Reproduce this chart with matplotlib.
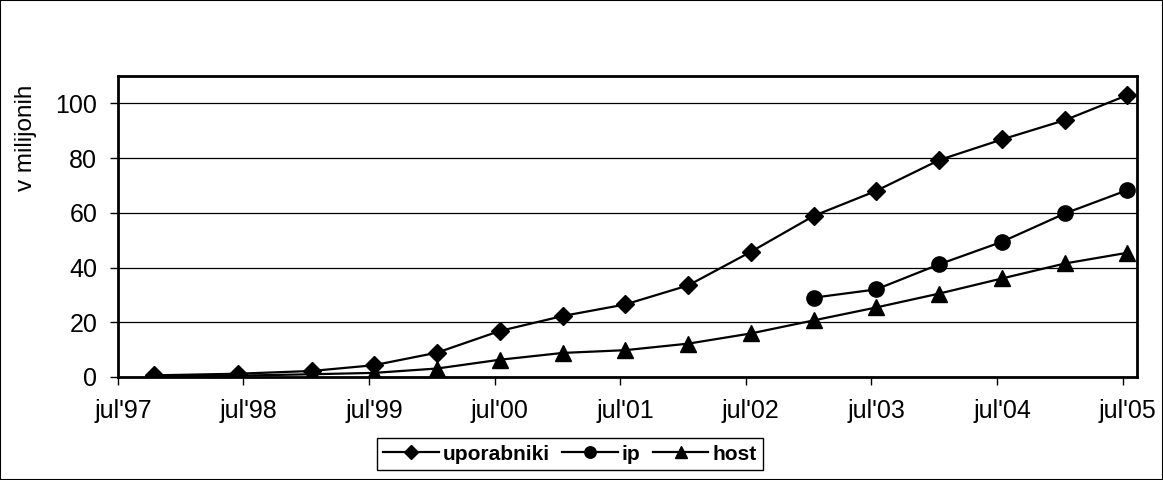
#!/usr/bin/env python3
import datetime as dt

import matplotlib
matplotlib.use("Agg")
import matplotlib.pyplot as plt
from matplotlib.patches import Rectangle
from matplotlib.transforms import ScaledTranslation

plt.rcParams["font.family"] = ["Liberation Sans", "DejaVu Sans"]

# survey dates (year, month, day)
dates = [
    (1997, 10, 15), (1998, 6, 15), (1999, 1, 15), (1999, 7, 15),
    (2000, 1, 15), (2000, 7, 15), (2001, 1, 15), (2001, 7, 15),
    (2002, 1, 15), (2002, 7, 15), (2003, 1, 15), (2003, 7, 15),
    (2004, 1, 15), (2004, 7, 15), (2005, 1, 15), (2005, 7, 15),
]
uporabniki = [0.6, 1.2, 2.2, 4.3, 8.9, 16.8, 22.3, 26.5, 33.5, 45.7,
              58.9, 68.0, 79.3, 86.8, 93.9, 103.0]
host = [0.3, 0.5, 1.0, 1.5, 3.1, 6.3, 8.8, 9.8, 12.2, 15.9,
        20.7, 25.4, 30.5, 36.0, 41.5, 45.4]
ip_dates = dates[10:]
ip = [29.0, 32.0, 41.2, 49.4, 59.8, 68.3]

tick_years = list(range(1997, 2006))
tick_labels = [f"jul'{y % 100:02d}" for y in tick_years]


def to_dt(d):
    return dt.datetime(*d)


def main():
    fig = plt.figure(figsize=(11.63, 4.8), dpi=100)
    ax = fig.add_axes([118 / 1163, 103 / 480, (1137 - 118) / 1163, 301 / 480])

    x = [to_dt(d) for d in dates]
    xi = [to_dt(d) for d in ip_dates]

    ax.plot(x, uporabniki, color="black", lw=1.6, marker="D", ms=9,
            label="uporabniki", zorder=3)
    ax.plot(xi, ip, color="black", lw=1.6, marker="o", ms=11,
            label="ip", zorder=3)
    ax.plot(x, host, color="black", lw=1.6, marker="^", ms=11,
            label="host", zorder=3)

    ax.set_xlim(dt.datetime(1997, 7, 1), dt.datetime(2005, 8, 12))
    ax.set_ylim(0, 110)
    ax.set_yticks([0, 20, 40, 60, 80, 100])
    ax.set_xticks([dt.datetime(y, 7, 1) for y in tick_years])
    ax.set_xticklabels(tick_labels)
    ax.tick_params(axis="both", direction="out", length=6, width=1,
                   labelsize=18, color="black")
    ax.tick_params(axis="x", pad=10)
    ax.tick_params(axis="y", pad=9)
    for lab in ax.get_xticklabels():
        lab.set_transform(lab.get_transform() +
                          ScaledTranslation(5 / 100, 0, fig.dpi_scale_trans))

    ax.grid(axis="y", color="black", lw=0.9)
    ax.set_axisbelow(True)
    for sp in ax.spines.values():
        sp.set_linewidth(2)
        sp.set_color("black")

    fig.text(26 / 1163, 1 - 138 / 480, "v milijonih", rotation=90,
             fontsize=17.5, ha="center", va="center")

    leg = ax.legend(loc="center", bbox_to_anchor=(570 / 1163, 26 / 480),
                    bbox_transform=fig.transFigure, ncol=3, frameon=True,
                    fancybox=False, edgecolor="black", framealpha=1,
                    prop={"weight": "bold", "size": 15}, markerscale=0.75,
                    handlelength=2.65, handletextpad=0.2, columnspacing=0.6,
                    borderpad=0.3, borderaxespad=0)
    leg.get_frame().set_linewidth(1)

    fig.patches.append(Rectangle((0, 0), 1, 1, transform=fig.transFigure,
                                 fill=False, edgecolor="black", lw=1.5))

    fig.savefig("out.png", dpi=100)


if __name__ == "__main__":
    main()
